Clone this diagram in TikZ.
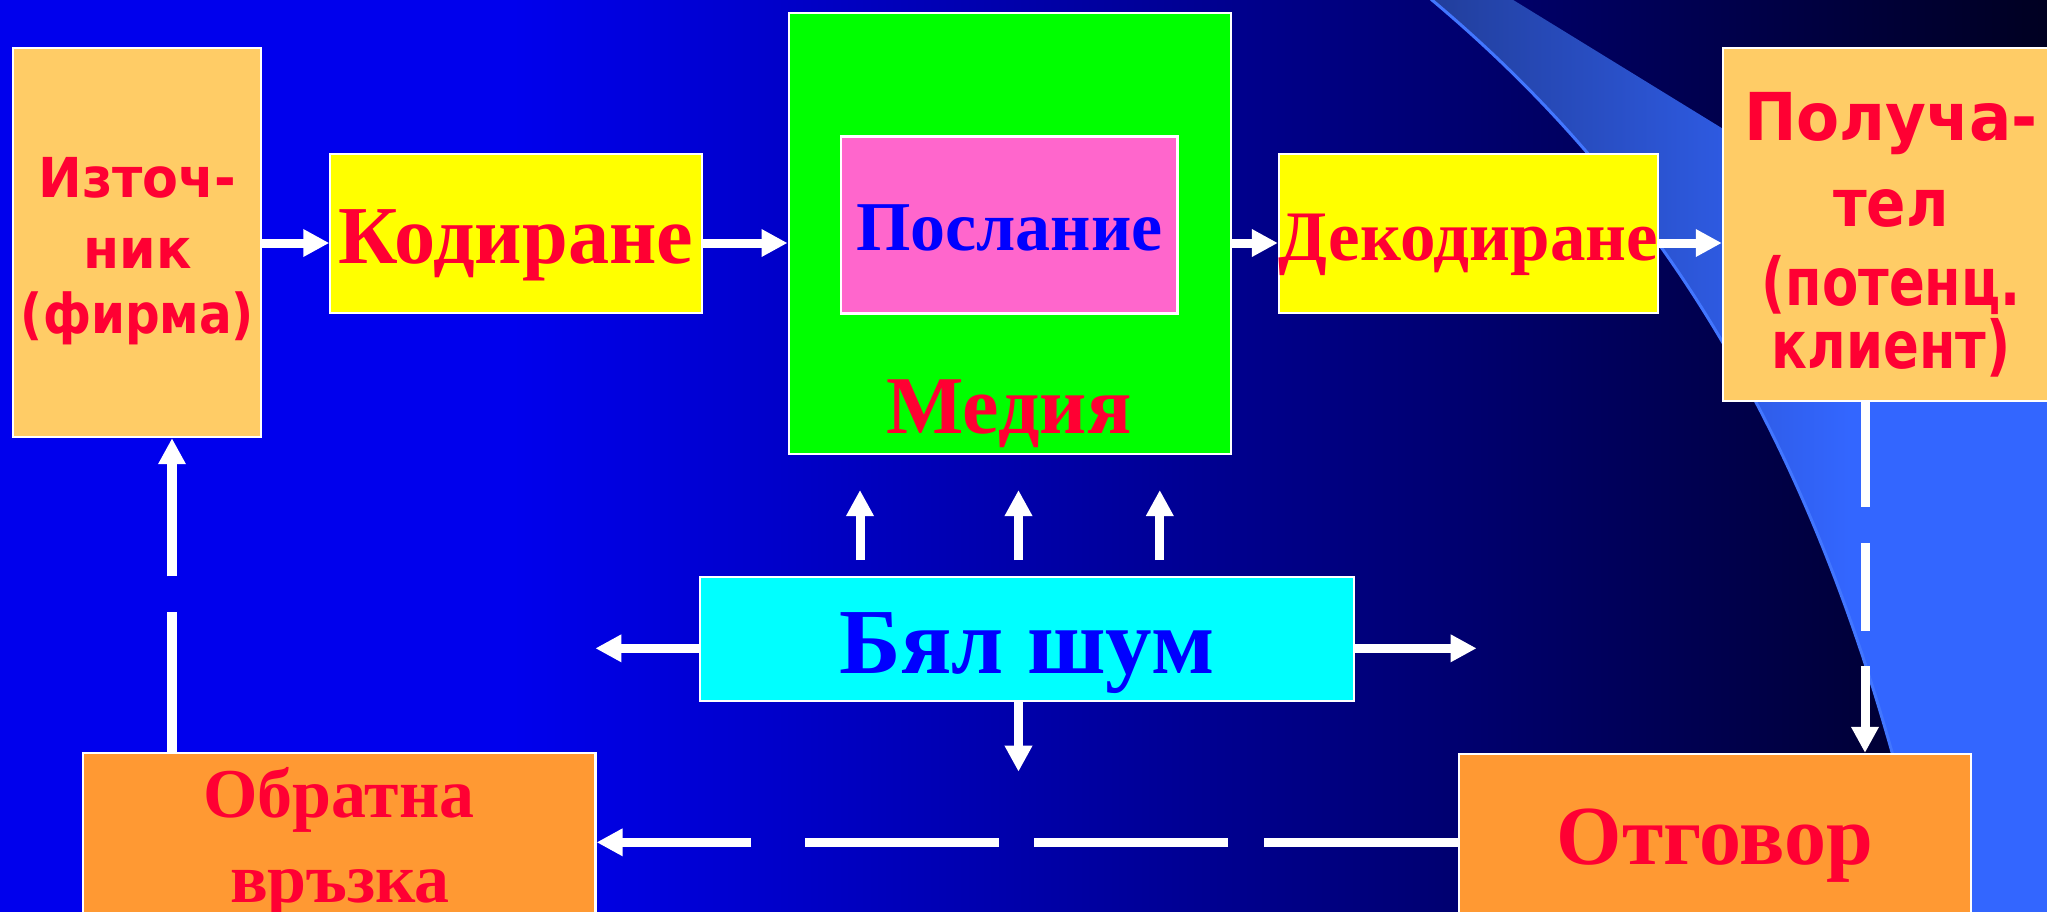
\documentclass[tikz,border=0pt]{standalone}
\usepackage{fontspec}
\setmainfont{Liberation Serif}
\newfontfamily\headsans{DejaVu Sans}[FakeStretch=0.88]
\newfontfamily\headsanswide{DejaVu Sans}[FakeStretch=0.95]
\newfontfamily\headsansnarrow{DejaVu Sans}[FakeStretch=0.80]
\usetikzlibrary{arrows.meta}

\definecolor{boxpeach}{HTML}{FFCC66}
\definecolor{boxyellow}{HTML}{FFFF00}
\definecolor{boxgreen}{HTML}{00FF00}
\definecolor{boxpink}{HTML}{FF66CC}
\definecolor{boxcyan}{HTML}{00FFFF}
\definecolor{boxorange}{HTML}{FF9933}
\definecolor{txtred}{HTML}{FF0033}
\definecolor{txtblue}{HTML}{0000FF}
\definecolor{rimblue}{HTML}{4276FF}

% slide background: flat blue on the left, darkening to navy on the right
\pgfdeclarehorizontalshading{slidebg}{100bp}{rgb(0bp)=(0,0,0.93); rgb(37.5bp)=(0,0,0.93); rgb(75bp)=(0,0,0.13); rgb(100bp)=(0,0,0.13)}
% lighter decorative band on the right
\pgfdeclarehorizontalshading{swoosh}{100bp}{rgb(0bp)=(0.13,0.24,0.60); rgb(25bp)=(0.13,0.24,0.60); rgb(58bp)=(0.2,0.4,1); rgb(100bp)=(0.2,0.4,1)}

\tikzset{
  box/.style={draw=white, line width=0.022cm, inner sep=0pt},
  tnr/.style={font=\bfseries\fontsize{#1}{#1}\selectfont},
  sans/.style={font=\headsans\bfseries\fontsize{#1}{#1}\selectfont},
  sanswide/.style={font=\headsanswide\bfseries\fontsize{#1}{#1}\selectfont},
  sansnarrow/.style={font=\headsansnarrow\bfseries\fontsize{#1}{#1}\selectfont},
  arr/.style={draw=white, line width=0.09cm, -{Triangle[length=0.26cm, width=0.26cm]}},
}

\begin{document}
\begin{tikzpicture}[x=0.01cm, y=-0.01cm]
\useasboundingbox (0,0) rectangle (2047,911);
\clip (0,0) rectangle (2047,911);

% background
\shade[shading=slidebg] (0,0) rectangle (2047,911);
\shade[shading=swoosh] (1497,-10) -- (2070,342) -- (2070,930) -- (1935,930)
  .. controls (1840,470) and (1670,200) .. (1432,0) -- (1422,-10) -- cycle;
\draw[rimblue, line width=0.03cm] (1935,930) .. controls (1840,470) and (1670,200) .. (1432,0) -- (1422,-10);

% source
\node[box, fill=boxpeach, minimum width=2.48cm, minimum height=3.89cm] (src) at (137,242.5) {};
\node[sanswide=15.65pt, text=txtred, anchor=base] (src1) at (137.5,197.3) {Източ-};
\node[sanswide=15.65pt, text=txtred, anchor=base] (src2) at (137.5,268.3) {ник};
\node[sans=15.65pt, text=txtred, anchor=base] (src3) at (137.5,333.3) {(фирма)};

% encoding
\node[box, fill=boxyellow, minimum width=3.71cm, minimum height=1.59cm,
      tnr=23.4pt, text=txtred, text height=0.796cm, text depth=0.2cm] (cod) at (516,233.5) {Кодиране};

% media with message
\node[box, fill=boxgreen, minimum width=4.42cm, minimum height=4.41cm] (media) at (1009.75,233.7) {};
\node[tnr=23.33pt, text=txtred, anchor=base] (medianame) at (1009,433.3) {Медия};
\node[box, fill=boxpink, minimum width=3.36cm, minimum height=1.77cm,
      tnr=19.9pt, text=txtblue, text height=0.70cm, text depth=0.2cm] (msg) at (1009.3,225) {Послание};

% decoding
\node[box, fill=boxyellow, minimum width=3.71cm, minimum height=1.59cm,
      tnr=20.2pt, text=txtred, text height=0.73cm, text depth=0.2cm] (dec) at (1468.5,233.5) {Декодиране};

% receiver
\node[box, fill=boxpeach, minimum width=3.36cm, minimum height=3.527cm] (rcv) at (1891,224.7) {};
\node[sanswide=18.78pt, text=txtred, anchor=base] (rcv1) at (1891,140.7) {Получа-};
\node[sans=18.78pt, text=txtred, anchor=base] (rcv2) at (1891,226.7) {тел};
\node[sansnarrow=18.78pt, text=txtred, anchor=base] (rcv3) at (1891,305) {(потенц.};
\node[sansnarrow=18.78pt, text=txtred, anchor=base] (rcv4) at (1891,368.3) {клиент)};

% noise
\node[box, fill=boxcyan, minimum width=6.535cm, minimum height=1.237cm,
      tnr=26.46pt, text=txtblue, text height=0.886cm, text depth=0.2cm] (noise) at (1027.25,639.2) {Бял шум};

% feedback
\node[box, fill=boxorange, minimum width=5.124cm, minimum height=2.0cm] (fb) at (339.2,853.3) {};
\node[tnr=19.9pt, text=txtred, anchor=base] (fb1) at (339,817) {Обратна};
\node[tnr=19.9pt, text=txtred, anchor=base] (fb2) at (340,902) {връзка};

% response
\node[box, fill=boxorange, minimum width=5.12cm, minimum height=1.81cm,
      tnr=23.9pt, text=txtred, text height=0.59cm, text depth=0.2cm] (ans) at (1715,844.5) {Отговор};

% helper coordinates for the connectors
\coordinate (rowy) at (0,243);
\coordinate (u1s) at (860,560);    \coordinate (u1e) at (860,490);
\coordinate (u2s) at (1018.5,560); \coordinate (u2e) at (1018.5,490);
\coordinate (u3s) at (1159.8,560); \coordinate (u3e) at (1159.8,490);
\coordinate (nl) at (595.4,648.3);
\coordinate (nr) at (1476.6,648.3);
\coordinate (nd) at (1018.5,771.7);
\coordinate (fbx) at (172,0);
\coordinate (rety) at (0,842.3);
\coordinate (respx) at (1865,0);

% main chain
\draw[arr] (src.east |- rowy) -- (cod.west |- rowy);
\draw[arr] (cod.east |- rowy) -- (media.west |- rowy);
\draw[arr] (media.east |- rowy) -- (dec.west |- rowy);
\draw[arr] (dec.east |- rowy) -- (rcv.west |- rowy);

% noise spreading out
\draw[arr] (u1s) -- (u1e);
\draw[arr] (u2s) -- (u2e);
\draw[arr] (u3s) -- (u3e);
\draw[arr] (noise.west |- nl) -- (nl);
\draw[arr] (noise.east |- nr) -- (nr);
\draw[arr] (noise.south -| nd) -- (nd);

% response and feedback loop
\draw[arr, dash pattern=on 1.05cm off 0.355cm on 0.88cm off 0.355cm on 4cm] (rcv.south -| respx) -- (ans.north -| respx);
\draw[arr, dash pattern=on 1.94cm off 0.356cm on 1.94cm off 0.351cm on 1.94cm off 0.534cm on 4cm] (ans.west |- rety) -- (fb.east |- rety);
\draw[arr, dash pattern=on 1.40cm off 0.356cm on 4cm] (fb.north -| fbx) -- (src.south -| fbx);
\end{tikzpicture}
\end{document}
